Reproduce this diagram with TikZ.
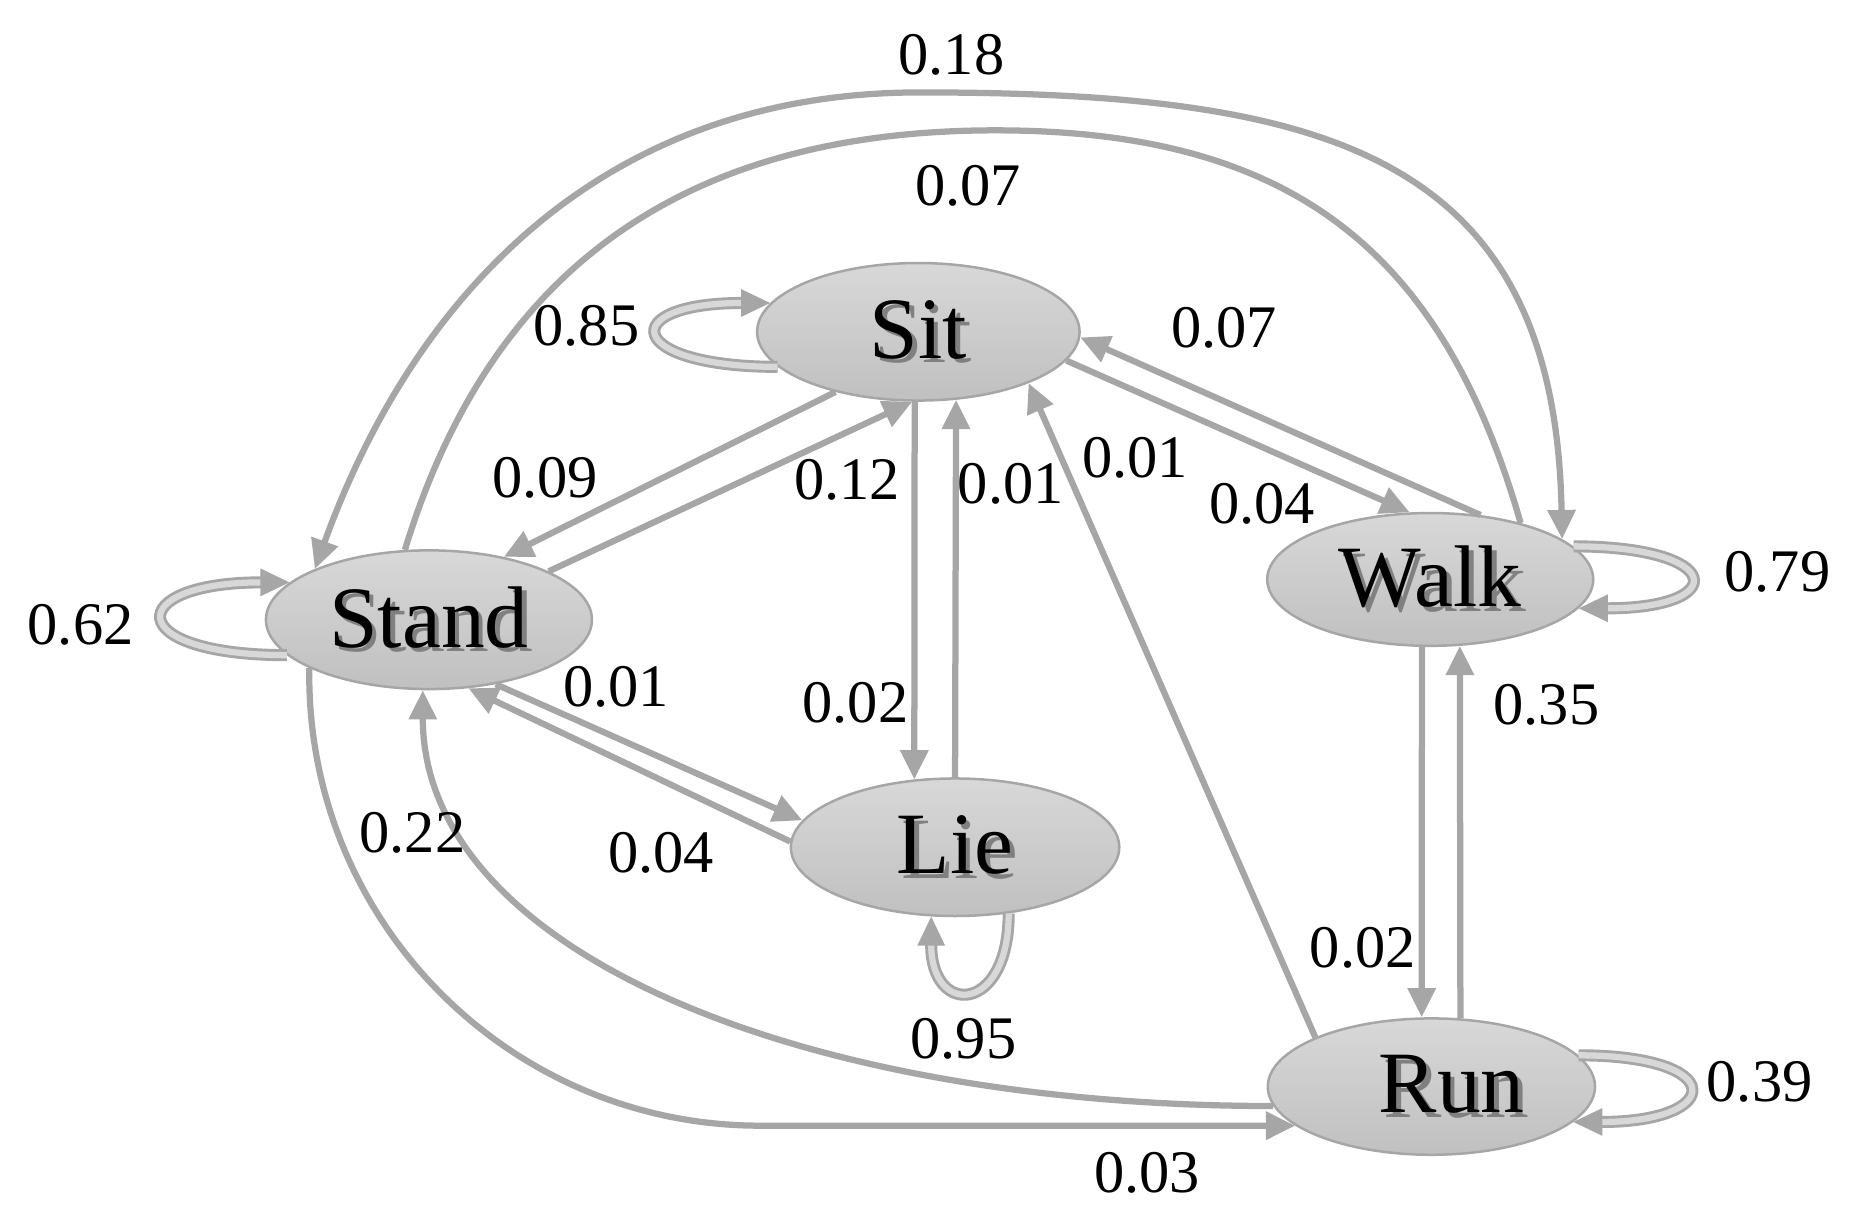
\documentclass[tikz,border=0pt]{standalone}
\usepackage{fontspec}
\setmainfont{Liberation Serif}
\usetikzlibrary{
  arrows.meta,
  shapes.geometric
}
\definecolor{edgegray}{HTML}{A6A6A6}
\definecolor{statetop}{HTML}{D8D8D8}
\definecolor{statebot}{HTML}{C0C0C0}
\definecolor{loopfill}{HTML}{D8D8D8}
\newcommand{\shadowed}[1]{\makebox[0pt][l]{\hspace{1.1pt}\raisebox{-1.1pt}{\textcolor{black!50}{#1}}}#1}

\begin{document}
\begin{tikzpicture}[x=0.01cm, y=-0.01cm,
  >={Triangle[length=7pt,width=6.5pt]},
  state/.style={ellipse, draw=edgegray, line width=0.6pt, top color=statetop, bottom color=statebot,
    inner sep=0pt, font=\fontsize{21}{25}\selectfont},
  edge/.style={draw=edgegray, line width=1.5pt, ->},
  bare/.style={draw=edgegray, line width=1.5pt},
  selfloop/.style={draw=edgegray, line width=0.7pt, double=loopfill, double distance=1.5pt, ->},
  prob/.style={font=\fontsize{14.5}{17}\selectfont, inner sep=1pt}
]
  \useasboundingbox (0,0) rectangle (1568,1027);

  \node[state, minimum width=2.72cm, minimum height=1.16cm] (sit) at (775,280) {\shadowed{Sit}};
  \node[state, minimum width=2.75cm, minimum height=1.17cm] (stand) at (362,523) {\shadowed{Stand}};
  \node[state, minimum width=2.75cm, minimum height=1.12cm] (walk) at (1207,489) {\shadowed{Walk}};
  \node[state, minimum width=2.77cm, minimum height=1.16cm] (lie) at (806,715) {\shadowed{Lie}};
  \node[state, minimum width=2.76cm, minimum height=1.15cm] (run) at (1208,917) {\hspace{0.34cm}\shadowed{Run}};

  % straight transitions
  \draw[edge] (sit.216) -- (stand.40);
  \draw[edge] (stand.22) -- (sit.265);
  \draw[edge] (sit.267) -- (lie.121);
  \draw[edge] (lie.90) -- (sit.299);
  \draw[edge] (stand.316) -- (lie.170);
  \draw[edge] (lie.178) -- (stand.300);
  \draw[edge] (sit.349) -- (walk.107);
  \draw[edge] (walk.52) -- (sit.358);
  \draw[edge] (run.157) -- (sit.335);
  \draw[edge] (walk.263) -- (run.98);
  \draw[edge] (run.67) -- (walk.294);

  % long arcs
  \draw[bare, <->] (stand.156) .. controls +(78,-216) and +(-280,0) .. (776,78)
    .. controls +(344,0) and +(-6,-325) .. (walk.17);
  \draw[bare] (stand.109) .. controls +(70,-230) and +(-270,0) .. (840,110)
    .. controls +(250,0) and +(-66,-230) .. (walk.32);
  \draw[edge, rounded corners=3.8cm] (stand.202) |- (run.196);
  \draw[edge] (run.187) .. controls +(-400,0) and +(0,220) .. (stand.265);

  % self transitions
  \draw[selfloop] (sit.194) .. controls +(-130,0) and +(-130,0) .. (sit.169);
  \draw[selfloop] (stand.194) .. controls +(-140,0) and +(-140,0) .. (stand.165);
  \draw[selfloop] (walk.13) .. controls +(128,0) and +(128,0) .. (walk.349);
  \draw[selfloop] (run.12) .. controls +(127,0) and +(127,0) .. (run.346);
  \draw[selfloop] (lie.309) .. controls +(0,85) and +(0,85) .. (lie.251);

  \node[prob] (pStandWalk) at (803,46) {0.18};
  \node[prob] (pWalkStand) at (817,157) {0.07};
  \node[prob] (pSitSit) at (495,275) {0.85};
  \node[prob] (pWalkSit) at (1033,277) {0.07};
  \node[prob] (pSitStand) at (460,403) {0.09};
  \node[prob] (pStandSit) at (715,405) {0.12};
  \node[prob] (pLieSit) at (853,408) {0.01};
  \node[prob] (pRunSit) at (958,386) {0.01};
  \node[prob] (pSitWalk) at (1065,425) {0.04};
  \node[prob] (pWalkWalk) at (1500,483) {0.79};
  \node[prob] (pStandStand) at (68,527) {0.62};
  \node[prob] (pStandLie) at (520,580) {0.01};
  \node[prob] (pSitLie) at (722,593) {0.02};
  \node[prob] (pRunWalk) at (1305,595) {0.35};
  \node[prob] (pRunStand) at (348,703) {0.22};
  \node[prob] (pLieStand) at (558,720) {0.04};
  \node[prob] (pWalkRun) at (1150,800) {0.02};
  \node[prob] (pLieLie) at (813,877) {0.95};
  \node[prob] (pRunRun) at (1485,913) {0.39};
  \node[prob] (pStandRun) at (968,990) {0.03};
\end{tikzpicture}
\end{document}
